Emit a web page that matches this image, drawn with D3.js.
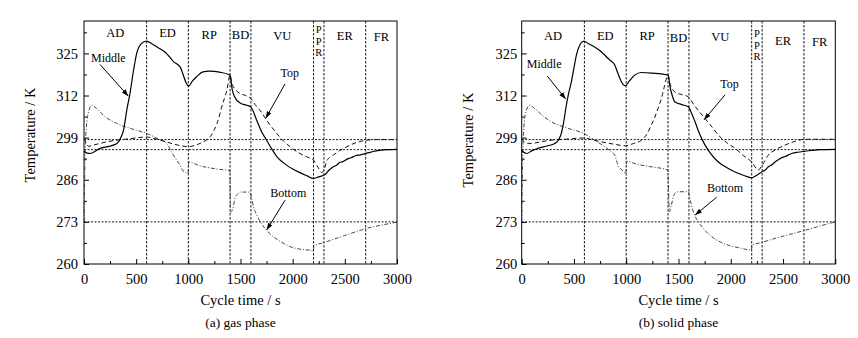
<!DOCTYPE html>
<html><head><meta charset="utf-8">
<script src="https://cdn.jsdelivr.net/npm/d3@7/dist/d3.min.js"></script>
<style>
html,body{margin:0;padding:0;background:#fff;}
svg text{font-family:"Liberation Serif","Times New Roman",Times,"DejaVu Serif",serif;fill:#000;}
</style></head>
<body>
<svg id="chart" width="858" height="338"></svg>
<script>
// ---------- data ----------
const phaseBounds = [0, 600, 1000, 1400, 1600, 2200, 2300, 2700, 3000];
const phaseNames = ["AD", "ED", "RP", "BD", "VU", "PPR", "ER", "FR"];
const xTicks = [0, 500, 1000, 1500, 2000, 2500, 3000];
const yTicks = [260, 273, 286, 299, 312, 325];
const refLevels = [298.4, 295.3, 273];

// gas phase
const gasMiddle = [[0,294.8],[30,294.2],[60,294.1],[150,295.6],[280,296.7],[320,297.3],[360,299.5],[380,301.5],[410,307.5],[440,312.5],[475,319.8],[505,325],[550,328],[600,328.8],[650,328],[700,327],[790,325],[830,323.5],[860,322.4],[900,321.5],[925,320.6],[950,318.5],[975,316.2],[1003,314.9],[1040,316.5],[1080,317.8],[1140,319.3],[1200,319.5],[1300,319.2],[1400,318.3],[1420,314],[1440,311.8],[1500,309.6],[1560,309],[1598,308.5],[1655,304.4],[1700,301],[1750,298.2],[1800,295.5],[1850,293.1],[1910,291.3],[2000,289.3],[2070,288.2],[2140,287.2],[2198,286.4],[2250,286.9],[2310,287.6],[2350,289],[2390,290],[2420,290.5],[2450,291.3],[2480,291.6],[2518,292.3],[2560,292.8],[2600,293.4],[2650,293.7],[2710,294.2],[2800,294.9],[2900,295.3],[3000,295.4]];
const gasTop = [[0,298.8],[20,297.5],[45,296.3],[80,296.6],[150,297.2],[310,298.2],[450,298.7],[600,299.2],[650,298.9],[730,298.2],[800,297.6],[860,297],[930,296.5],[1000,296.2],[1060,296.6],[1110,297.2],[1160,298],[1210,299.3],[1250,301.5],[1275,303.4],[1300,306],[1320,308.5],[1345,311],[1370,313.7],[1400,318.3],[1415,316],[1432,314.7],[1460,313.5],[1496,312.6],[1550,312],[1598,311.1],[1640,309.2],[1690,307.3],[1750,304.4],[1800,302.2],[1850,300.2],[1910,298],[1975,296.2],[2070,294.1],[2140,293],[2198,292.1],[2240,290],[2280,288.2],[2300,289],[2330,292],[2390,293.6],[2450,295],[2520,296.2],[2610,297.5],[2710,298.2],[2800,298.4],[3000,298.4]];
const gasBottom = [[0,273],[5,284],[15,298],[40,306.5],[75,309],[120,308],[200,305.5],[313,303.4],[450,301.8],[600,300.3],[700,298.8],[793,297.2],[840,294.5],[890,292],[920,290.5],[950,288.7],[975,288.2],[998,288],[1003,291.5],[1100,290.4],[1200,289.7],[1300,289.2],[1398,288.8],[1405,276],[1420,276.5],[1450,280.5],[1480,281.8],[1500,282.2],[1590,282.2],[1605,280.5],[1625,277.6],[1650,275.5],[1690,273],[1750,270.4],[1820,268.3],[1890,266.8],[1970,265.4],[2050,264.7],[2120,264.4],[2198,264.2],[2203,265.6],[2300,266.6],[2400,267.7],[2500,268.8],[2600,269.9],[2710,271],[2850,272],[3000,272.9]];

// solid phase
const solMiddle = [[0,295.1],[20,294.5],[45,294.1],[100,295],[156,295.7],[250,296.5],[316,297.2],[350,298.2],[379,300.3],[400,303.5],[427,309],[450,312.8],[475,316.2],[500,320.5],[523,324.5],[560,327.8],[593,328.8],[640,328],[698,327],[750,325.8],[794,324.5],[840,323],[890,321.4],[921,318.8],[950,316.5],[991,315],[1030,316.5],[1081,318.3],[1145,319.1],[1250,318.9],[1400,318.3],[1420,314.5],[1440,312],[1464,310.1],[1530,309.2],[1594,308.5],[1625,306.5],[1658,303.9],[1700,300.3],[1754,296.7],[1810,294],[1881,291.5],[1960,289.8],[2041,288.4],[2120,287.4],[2200,286.6],[2250,287.4],[2296,288.4],[2330,289],[2360,290],[2400,290.8],[2423,291.5],[2470,292.5],[2520,293.2],[2583,294.1],[2640,294.5],[2710,294.8],[2850,295.3],[3000,295.4]];
const solTop = [[0,298.7],[20,297.8],[50,297.3],[92,297.2],[180,297.7],[283,298.2],[450,298.6],[593,298.9],[680,298.3],[762,297.7],[880,297],[991,296.5],[1070,297.2],[1145,298.2],[1200,300.2],[1240,302.9],[1270,305],[1304,308],[1340,311.5],[1368,315.2],[1400,318.3],[1420,315.5],[1466,313.1],[1530,312.3],[1594,311.6],[1650,309],[1700,307],[1754,304.9],[1820,302.3],[1881,299.8],[1960,297.5],[2041,295.7],[2120,293.5],[2200,291.5],[2263,289],[2300,290.5],[2359,293.6],[2430,295.3],[2518,296.7],[2610,297.8],[2710,298.5],[2850,298.5],[3000,298.5]];
const solBottom = [[0,273],[5,285],[15,299],[40,307],[77,309],[130,307.8],[200,305.8],[283,303.9],[430,302],[593,300.3],[698,298.2],[794,296.2],[850,294.8],[890,293.6],[921,290.5],[960,289],[995,287.9],[1005,291.7],[1100,290.8],[1240,290],[1398,289],[1413,276.1],[1430,278],[1464,281.8],[1500,282.3],[1594,282.3],[1610,280],[1642,276.1],[1690,273],[1750,270.5],[1818,268.4],[1900,266.8],[1977,265.8],[2080,265],[2198,264.3],[2203,265.8],[2300,266.7],[2423,267.9],[2560,269.1],[2710,270.4],[2850,271.7],[3000,273]];

// annotations [label, textT, textTemp, arrowFromT, arrowFromTemp, arrowToT, arrowToTemp]
const gasNotes = [["Middle",233,322.2,153,321.6,425,311.8],["Top",1972,317.7,1927,315.6,1742,305],["Bottom",1958,280.7,1927,279.7,1751,270.5]];
const solNotes = [["Middle",215,320.5,245,318,421,310.9],["Top",1988,314.3,1945,312.2,1744,304.5],["Bottom",1945,282.2,1865,280.6,1659,275.1]];

const panels = [
  {x0:84, x1:397, caption:"(a) gas phase", middle:gasMiddle, top:gasTop, bottom:gasBottom, notes:gasNotes, labelDy:[0,0,1.5,1.5,3,0,3,4], pprBase:33},
  {x0:521.7, x1:835.3, caption:"(b) solid phase", middle:solMiddle, top:solTop, bottom:solBottom, notes:solNotes, labelDy:[2.5,2.5,2.5,5,4,0,8,9], pprBase:37}
];

const svg = d3.select("#chart");
const defs = svg.append("defs");
defs.append("marker").attr("id","arr").attr("viewBox","0 0 10 10").attr("refX",10).attr("refY",5)
  .attr("markerWidth",7).attr("markerHeight",7).attr("markerUnits","userSpaceOnUse").attr("orient","auto")
  .append("path").attr("d","M0,1.5 L10,5 L0,8.5 Z").attr("fill","#000");

const yTop = 21, yBot = 264;

panels.forEach((p, pi) => {
  const x = d3.scaleLinear().domain([0,3000]).range([p.x0, p.x1]);
  const y = d3.scaleLinear().domain([260,335]).range([yBot, yTop]);
  const g = svg.append("g");

  // reference horizontal lines
  g.selectAll(".ref").data(refLevels).enter().append("line")
    .attr("x1", x(0)).attr("x2", x(3000)).attr("y1", d=>y(d)).attr("y2", d=>y(d))
    .attr("stroke","#000").attr("stroke-width",0.9).attr("stroke-dasharray","2,1.5");
  // phase boundaries
  g.selectAll(".pb").data(phaseBounds.slice(1,-1)).enter().append("line")
    .attr("x1", d=>x(d)).attr("x2", d=>x(d)).attr("y1", yTop).attr("y2", yBot)
    .attr("stroke","#000").attr("stroke-width",0.9).attr("stroke-dasharray","2.5,1.5");

  // axes (inward ticks)
  const xMinor = d3.range(0, 3001, 250).filter(v => v % 500 !== 0);
  const yMinor = d3.range(266.5, 335, 13);
  g.append("g").attr("transform",`translate(0,${yBot})`)
    .call(d3.axisBottom(x).tickValues(xMinor).tickSize(-3).tickFormat(""))
    .call(a=>a.select(".domain").remove());
  g.append("g").attr("transform",`translate(0,${yBot})`)
    .call(d3.axisBottom(x).tickValues(xTicks).tickSize(-5).tickPadding(10).tickFormat(d3.format("d")))
    .call(a=>a.select(".domain").remove())
    .call(a=>a.selectAll("text").attr("font-size",14.5));
  g.append("g").attr("transform",`translate(${p.x0},0)`)
    .call(d3.axisLeft(y).tickValues(yMinor).tickSize(-3).tickFormat(""))
    .call(a=>a.select(".domain").remove());
  g.append("g").attr("transform",`translate(${p.x0},0)`)
    .call(d3.axisLeft(y).tickValues(yTicks).tickSize(-5).tickPadding(pi===0?6:4.5).tickFormat(d3.format("d")))
    .call(a=>a.select(".domain").remove())
    .call(a=>a.selectAll("text").attr("font-size",14.5));
  g.selectAll(".tick text").style("font-family",'"Liberation Serif","Times New Roman",Times,serif');

  g.append("rect").attr("x",p.x0).attr("y",yTop).attr("width",p.x1-p.x0).attr("height",yBot-yTop)
    .attr("fill","none").attr("stroke","#000").attr("stroke-width",1);

  // curves
  const line = d3.line().x(d=>x(d[0])).y(d=>y(d[1])).curve(d3.curveMonotoneX);
  g.append("path").datum(p.bottom).attr("d",line).attr("fill","none")
    .attr("stroke","#333").attr("stroke-width",0.9).attr("stroke-dasharray","4,1.8,1,1.8");
  g.append("path").datum(p.top).attr("d",line).attr("fill","none")
    .attr("stroke","#111").attr("stroke-width",1).attr("stroke-dasharray","4.5,3");
  g.append("path").datum(p.middle).attr("d",line).attr("fill","none")
    .attr("stroke","#000").attr("stroke-width",1.2);

  // phase labels
  phaseNames.forEach((nm, i) => {
    const cx = x((phaseBounds[i] + phaseBounds[i+1]) / 2);
    if (nm === "PPR") {
      ["P","P","R"].forEach((c,k)=>{
        g.append("text").attr("x",cx).attr("y",p.pprBase + k*11.5).attr("text-anchor","middle")
          .attr("font-size",10.5).text(c);
      });
    } else {
      g.append("text").attr("x",cx).attr("y",37 + p.labelDy[i]).attr("text-anchor","middle")
        .attr("font-size",12.5).text(nm);
    }
  });

  // annotations
  p.notes.forEach(n => {
    g.append("text").attr("x",x(n[1])).attr("y",y(n[2])).attr("text-anchor","middle")
      .attr("font-size",12).text(n[0]);
    g.append("line").attr("x1",x(n[3])).attr("y1",y(n[4])).attr("x2",x(n[5])).attr("y2",y(n[6]))
      .attr("stroke","#000").attr("stroke-width",1).attr("marker-end","url(#arr)");
  });

  // titles
  const cxp = (p.x0 + p.x1) / 2;
  g.append("text").attr("x",cxp).attr("y",305).attr("text-anchor","middle").attr("font-size",14.5).text("Cycle time / s");
  g.append("text").attr("x",cxp).attr("y",327).attr("text-anchor","middle").attr("font-size",13.5).text(p.caption);
  g.append("text").attr("transform",`translate(${p.x0-49},${pi===0?135:140}) rotate(-90)`)
    .attr("text-anchor","middle").attr("font-size",14.5).text("Temperature / K");
});
</script>
</body></html>
